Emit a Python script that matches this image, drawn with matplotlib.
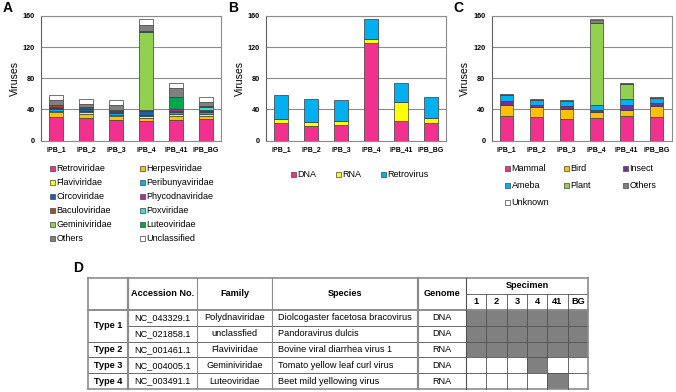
import matplotlib
matplotlib.use('Agg')
import matplotlib.pyplot as plt
from matplotlib.patches import Rectangle
import numpy as np

plt.rcParams['font.family'] = ['Liberation Sans', 'DejaVu Sans']

samples = ['IPB_1', 'IPB_2', 'IPB_3', 'IPB_4', 'IPB_41', 'IPB_BG']

# Panel A: virus families
families = ['Retroviridae', 'Herpesviridae', 'Flaviviridae', 'Peribunyaviridae',
            'Circoviridae', 'Phycodnaviridae', 'Baculoviridae', 'Poxviridae',
            'Geminiviridae', 'Luteoviridae', 'Others', 'Unclassified']
family_colors = ['#f2318f', '#ffc000', '#ffff00', '#00b0f0', '#1f5fa8', '#b0309a',
                 '#a0522d', '#33e0e0', '#92d050', '#00a550', '#808080', '#ffffff']
retroviridae = [30, 29, 26, 25, 26, 27]
herpesviridae = [6, 5, 5, 4, 6, 5]
flaviviridae = [2, 2, 2, 2, 2, 2]
peribunyaviridae = [2, 2, 2, 2, 2, 2]
circoviridae = [2, 3, 2, 5, 2, 2]
phycodnaviridae = [1, 1, 1, 1, 2, 1]
baculoviridae = [2, 0, 0, 0, 1, 0]
poxviridae = [0, 1, 0, 0, 0, 4]
geminiviridae = [0, 0, 0, 101, 0, 0]
luteoviridae = [1, 0, 1, 1, 15, 1]
others_a = [6, 4, 6, 8, 11, 6]
unclassified = [6, 6, 7, 7, 7, 6]
family_counts = [retroviridae, herpesviridae, flaviviridae, peribunyaviridae,
                 circoviridae, phycodnaviridae, baculoviridae, poxviridae,
                 geminiviridae, luteoviridae, others_a, unclassified]

# Panel B: genome type
genome_types = ['DNA', 'RNA', 'Retrovirus']
genome_colors = ['#f2318f', '#ffff00', '#00b0f0']
dna = [22, 19, 20, 125, 25, 23]
rna = [5, 5, 5, 6, 25, 6]
retrovirus = [31, 29, 27, 25, 24, 27]
genome_counts = [dna, rna, retrovirus]

# Panel C: host
hosts = ['Mammal', 'Bird', 'Insect', 'Ameba', 'Plant', 'Others', 'Unknown']
host_colors = ['#f2318f', '#ffc000', '#7030a0', '#00b0f0', '#92d050', '#808080', '#ffffff']
mammal = [31, 30, 28, 29, 32, 30]
bird = [14, 13, 13, 7, 7, 14]
insect = [6, 3, 3, 3, 7, 4]
ameba = [7, 6, 7, 7, 7, 7]
plant = [0, 0, 0, 105, 19, 0]
others_c = [2, 1, 1, 4, 2, 1]
unknown = [0, 0, 0, 1, 0, 0]
host_counts = [mammal, bird, insect, ameba, plant, others_c, unknown]

# Panel D: table
type_labels = ['Type 1', 'Type 2', 'Type 3', 'Type 4']
type_rows = [2, 1, 1, 1]
accessions = ['NC_043329.1', 'NC_021858.1', 'NC_001461.1', 'NC_004005.1', 'NC_003491.1']
tbl_families = ['Polydnaviridae', 'unclassfied', 'Flaviviridae', 'Geminiviridae', 'Luteoviridae']
species = ['Diolcogaster facetosa bracovirus', 'Pandoravirus dulcis',
           'Bovine viral diarrhea virus 1', 'Tomato yellow leaf curl virus',
           'Beet mild yellowing virus']
genomes = ['DNA', 'DNA', 'RNA', 'DNA', 'RNA']
specimens = ['1', '2', '3', '4', '41', 'BG']
presence = [[1, 1, 1, 1, 1, 1],
            [1, 1, 1, 1, 1, 1],
            [1, 1, 1, 1, 1, 1],
            [0, 0, 0, 1, 0, 0],
            [0, 0, 0, 0, 1, 0]]

W, H = 676, 392
fig = plt.figure(figsize=(W / 100, H / 100), dpi=100)

ov = fig.add_axes([0, 0, 1, 1])
ov.set_xlim(0, W)
ov.set_ylim(H, 0)
ov.axis('off')


def px_axes(l, t, r, b):
    return fig.add_axes([l / W, 1 - b / H, (r - l) / W, (b - t) / H])


def stacked(ax, counts, colors):
    x = np.arange(len(samples))
    bottom = np.zeros(len(samples))
    for vals, c in zip(counts, colors):
        vals = np.array(vals, float)
        m = vals > 0
        ax.bar(x[m], vals[m], 0.44, bottom=bottom[m], color=c,
               edgecolor='#3a3a3a', linewidth=0.5, zorder=3)
        bottom += vals
    ax.set_xlim(-0.5, len(samples) - 0.5)
    ax.set_ylim(0, 160)
    ax.set_yticks([0, 40, 80, 120, 160])
    ax.yaxis.grid(True, color='#8c8c8c', lw=0.8)
    ax.set_axisbelow(True)
    ax.set_xticks(x)
    ax.set_xticklabels(samples, fontsize=5, fontweight='bold')
    ax.tick_params(axis='y', labelsize=5.2, length=0, pad=4.5)
    ax.tick_params(axis='x', length=0, pad=4)
    for lbl in ax.get_yticklabels():
        lbl.set_fontweight('bold')
    ax.set_ylabel('Viruses', fontsize=7.6, labelpad=2)
    for s in ax.spines.values():
        s.set_color('#8c8c8c')
        s.set_linewidth(0.8)
    ax.spines['left'].set_color('#606060')


def legend(labels, colors, order_rows, x0s, y0, dy):
    for r, row in enumerate(order_rows):
        for cidx, idx in enumerate(row):
            x = x0s[cidx]
            y = y0 + r * dy
            ov.add_patch(Rectangle((x, y - 2.5), 5, 5, facecolor=colors[idx],
                                   edgecolor='#444444', lw=0.5))
            ov.text(x + 6.5, y, labels[idx], fontsize=6.5, va='center', ha='left')


axA = px_axes(41, 16, 221, 140.5)
stacked(axA, family_counts, family_colors)
axB = px_axes(266, 16, 446, 140.5)
stacked(axB, genome_counts, genome_colors)
axC = px_axes(491.5, 16, 671.5, 140.5)
stacked(axC, host_counts, host_colors)

for lab, x in [('A', 8), ('B', 233), ('C', 458), ('D', 78)]:
    y = 268 if lab == 'D' else 8
    ov.text(x, y, lab, fontsize=10, fontweight='bold', ha='center', va='center')

legend(families, family_colors, [[0, 1], [2, 3], [4, 5], [6, 7], [8, 9], [10, 11]],
       [50, 140], 168, 14.1)
legend(genome_types, genome_colors, [[0, 1, 2]], [291, 336, 381], 174, 0)
legend(hosts, host_colors, [[0, 1, 2], [3, 4, 5], [6]], [505, 564, 623], 168.3, 17.3)

# table D
col_edges = [88, 128, 197, 272, 418, 466, 486.3, 506.6, 527, 547.3, 567.6, 588]
row_edges = [278, 310, 325.8, 341.6, 357.4, 373.2, 389]
mid_head = 294
dark = '#505050'
gray = '#8c8c8c'

for i, row in enumerate(presence):
    for j, v in enumerate(row):
        if v:
            ov.add_patch(Rectangle((col_edges[5 + j], row_edges[i + 1]),
                                   col_edges[6 + j] - col_edges[5 + j],
                                   row_edges[i + 2] - row_edges[i + 1],
                                   facecolor='#808080', edgecolor='none'))

# horizontal lines
x_l, x_r = col_edges[0], col_edges[-1]
ov.plot([x_l, x_r], [row_edges[0]] * 2, color=gray, lw=1.2)
ov.plot([x_l, x_r], [row_edges[1]] * 2, color=gray, lw=1.4)
ov.plot([x_l, x_r], [row_edges[-1]] * 2, color=gray, lw=1.2)
ov.plot([col_edges[5], x_r], [mid_head] * 2, color=dark, lw=0.6)
ov.plot([col_edges[1], x_r], [row_edges[2]] * 2, color=dark, lw=0.6)
for y in row_edges[3:-1]:
    ov.plot([x_l, x_r], [y, y], color=dark, lw=0.6)

# vertical lines
top, bot = row_edges[0], row_edges[-1]
for k, x in enumerate(col_edges):
    if k in (0, 11):
        ov.plot([x, x], [top, bot], color=gray, lw=1.2)
    elif k in (1, 4):
        ov.plot([x, x], [top, bot], color=gray, lw=1.6)
    elif k in (2, 3, 5):
        ov.plot([x, x], [top, bot], color=gray if k != 5 else dark, lw=0.8)
    else:
        ov.plot([x, x], [mid_head, bot], color=dark, lw=0.6)

fs = 6.6
hy = (row_edges[0] + row_edges[1]) / 2
for k, txt in [(1, 'Accession No.'), (2, 'Family'), (3, 'Species'), (4, 'Genome')]:
    ov.text((col_edges[k] + col_edges[k + 1]) / 2, hy, txt, fontsize=fs,
            fontweight='bold', ha='center', va='center')
ov.text((col_edges[5] + col_edges[-1]) / 2, (row_edges[0] + mid_head) / 2, 'Specimen',
        fontsize=fs, fontweight='bold', ha='center', va='center')
for j, s in enumerate(specimens):
    ov.text((col_edges[5 + j] + col_edges[6 + j]) / 2, (mid_head + row_edges[1]) / 2, s,
            fontsize=fs, fontweight='bold', ha='center', va='center')

r0 = 0
for lab, n in zip(type_labels, type_rows):
    yc = (row_edges[1 + r0] + row_edges[1 + r0 + n]) / 2
    ov.text((col_edges[0] + col_edges[1]) / 2, yc, lab, fontsize=fs, fontweight='bold',
            ha='center', va='center')
    r0 += n

for i in range(len(accessions)):
    yc = (row_edges[1 + i] + row_edges[2 + i]) / 2
    ov.text((col_edges[1] + col_edges[2]) / 2, yc, accessions[i], fontsize=fs,
            ha='center', va='center')
    ov.text((col_edges[2] + col_edges[3]) / 2, yc, tbl_families[i], fontsize=fs,
            ha='center', va='center')
    ov.text(col_edges[3] + 6, yc, species[i], fontsize=fs, ha='left', va='center')
    ov.text((col_edges[4] + col_edges[5]) / 2, yc, genomes[i], fontsize=fs,
            ha='center', va='center')

fig.savefig('out.png', dpi=100)
